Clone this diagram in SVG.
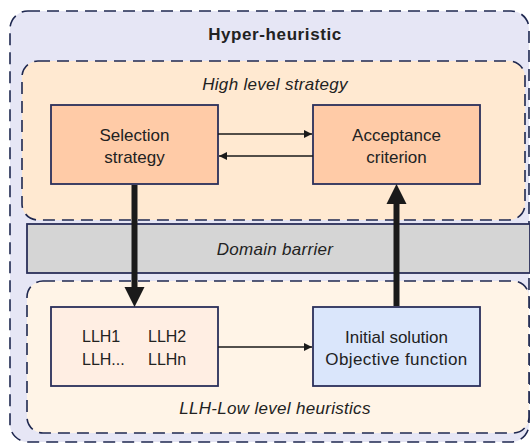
<svg xmlns="http://www.w3.org/2000/svg" width="530" height="444" viewBox="0 0 530 444">
<defs>
<marker id="ah" viewBox="0 0 10 10" refX="10" refY="5" markerWidth="8" markerHeight="8" markerUnits="userSpaceOnUse" orient="auto"><path d="M0,0 L10,5 L0,10 z" fill="#1a1a1a"/></marker>
<style>
.grp{stroke:#1f2850;stroke-width:1.6;stroke-dasharray:12 7}
.box{stroke:#2b2f5a;stroke-width:1.8}
text{font-family:"Liberation Sans",Arial,sans-serif;fill:#222;text-anchor:middle}
.t17{font-size:17px}
.it{font-style:italic;font-size:17px;letter-spacing:0.3px}
.thin{stroke:#1a1a1a;stroke-width:1.4;fill:none;marker-end:url(#ah)}
.thick{stroke:#1a1a1a;stroke-width:6;fill:none}
</style>
</defs>
<g id="hyper-heuristic">
<rect x="10" y="11" width="519" height="431" rx="18" fill="#e6e6f5" class="grp"/>
<text x="275" y="40" class="t17" font-weight="bold" letter-spacing="0.6">Hyper-heuristic</text>
</g>
<g id="high-level">
<rect x="22" y="61" width="503" height="159" rx="16" fill="#ffe9d1" class="grp"/>
<text x="275" y="90" class="it">High level strategy</text>
</g>
<g id="domain-barrier">
<rect x="27" y="224" width="503" height="49" fill="#d5d5d5" class="box"/>
<text x="275" y="255" class="it" letter-spacing="0.5">Domain barrier</text>
</g>
<g id="low-level">
<rect x="27" y="281" width="502" height="152" rx="16" fill="#fff4e7" class="grp"/>
<text x="275" y="414" class="it">LLH-Low level heuristics</text>
</g>
<g id="selection">
<rect x="51" y="105" width="167" height="79" fill="#ffcba7" class="box"/>
<text x="134.5" y="141" class="t17">Selection</text>
<text x="134.5" y="163" class="t17">strategy</text>
</g>
<g id="acceptance">
<rect x="313" y="105" width="167" height="79" fill="#ffcba7" class="box"/>
<text x="396.5" y="141" class="t17">Acceptance</text>
<text x="396.5" y="163" class="t17">criterion</text>
</g>
<g id="llh">
<rect x="51" y="307" width="167" height="79" fill="#ffeee3" class="box"/>
<text x="82" y="342" font-size="16px" style="text-anchor:start">LLH1</text>
<text x="148" y="342" font-size="16px" style="text-anchor:start">LLH2</text>
<text x="82" y="365" font-size="16px" style="text-anchor:start">LLH...</text>
<text x="148" y="365" font-size="16px" style="text-anchor:start">LLHn</text>
</g>
<g id="initial">
<rect x="313" y="307" width="167" height="79" fill="#dae6fb" class="box"/>
<text x="396.5" y="343" class="t17">Initial solution</text>
<text x="396.5" y="365" class="t17" letter-spacing="0.4">Objective function</text>
</g>
<g id="connectors">
<line x1="218" y1="134" x2="312" y2="134" class="thin"/>
<line x1="313" y1="156" x2="219" y2="156" class="thin"/>
<line x1="218" y1="347" x2="312" y2="347" class="thin"/>
<line x1="134.5" y1="185" x2="134.5" y2="289" class="thick"/>
<polygon points="124.5,287 144.5,287 134.5,307" fill="#1a1a1a"/>
<line x1="396.5" y1="306" x2="396.5" y2="202" class="thick"/>
<polygon points="386.5,204 406.5,204 396.5,184" fill="#1a1a1a"/>
</g>
</svg>
